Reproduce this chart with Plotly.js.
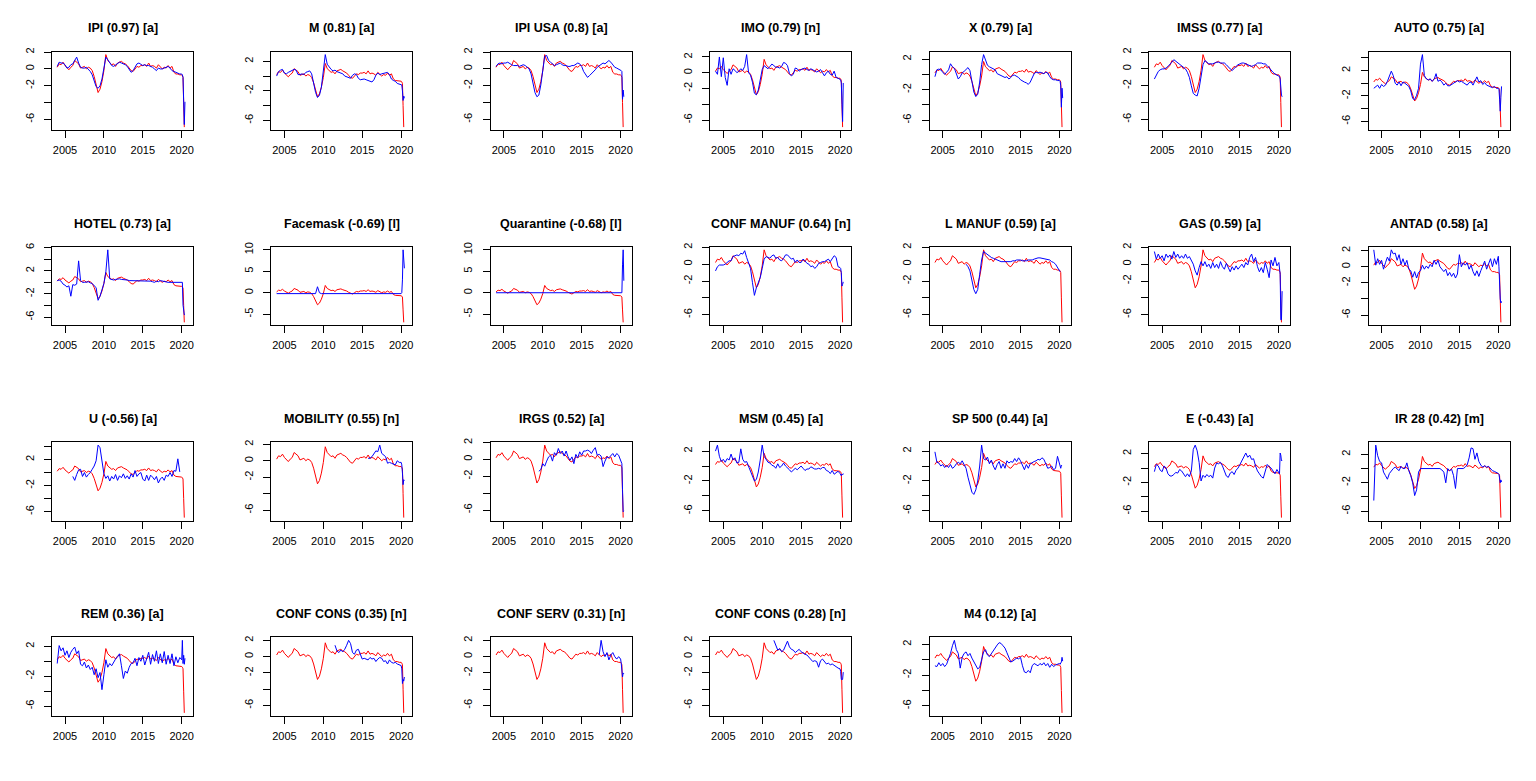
<!DOCTYPE html>
<html><head><meta charset="utf-8">
<script src="https://cdn.plot.ly/plotly-3.0.1.min.js"></script>
<style>html,body{margin:0;padding:0;background:#fff;} #chart{width:1536px;height:781px;}</style>
</head><body><div id="chart"></div>
<script>
const _ = null;
// Time axis: quarterly 2004-2019, then monthly Jan-Jun 2020
const T = [2004,2004.25,2004.5,2004.75,2005,2005.25,2005.5,2005.75,2006,2006.25,2006.5,2006.75,
2007,2007.25,2007.5,2007.75,2008,2008.25,2008.5,2008.75,2009,2009.25,2009.5,2009.75,
2010,2010.25,2010.5,2010.75,2011,2011.25,2011.5,2011.75,2012,2012.25,2012.5,2012.75,
2013,2013.25,2013.5,2013.75,2014,2014.25,2014.5,2014.75,2015,2015.25,2015.5,2015.75,
2016,2016.25,2016.5,2016.75,2017,2017.25,2017.5,2017.75,2018,2018.25,2018.5,2018.75,
2019,2019.25,2019.5,2019.75,2020,2020.083,2020.167,2020.25,2020.333,2020.417];

// Red series (target, same in every panel)
const TARGET = [0.2,0.6,0.5,0.8, 0.4,0.2,-0.1,0.2, 0.4,1.0,0.8,0.6, 0.1,0.2,0.3,0.0,
0.2,0.1,-0.2,-0.9, -2.0,-2.8,-2.4,-1.5, -0.2,1.7,1.0,0.7, 0.5,0.6,0.3,0.7,
0.8,0.9,0.7,0.6, 0.4,0.1,-0.2,-0.3, 0.0,0.3,0.2,0.4, 0.4,0.5,0.3,0.7,
0.3,0.4,0.3,0.1, 0.5,0.2,0.0,0.2, 0.1,0.4,0.1,0.3, -0.4,-0.6,-0.6,-0.7,
-0.7,-0.8,-1.0,-4.0,-6.9,_];

// Blue series (indicators)
const IPI = [0.3,0.8,0.7,0.7, 0.5,0.1,0.2,0.5, 0.6,1.0,1.4,0.7, 0.2,0.1,0.1,0.2,
0.0,-0.3,-0.7,-1.5, -2.1,-2.3,-2.0,-1.2, 0.2,1.4,1.1,0.7, 0.4,0.3,0.5,0.7,
0.8,0.7,0.6,0.5, 0.3,0.0,-0.4,-0.2, 0.2,0.6,0.7,0.5, 0.4,0.5,0.4,0.4,
0.3,0.2,0.0,-0.2, 0.1,0.0,0.0,0.1, 0.2,0.3,0.1,-0.2, -0.3,-0.4,-0.5,-0.6,
-0.6,-0.7,-1.0,-3.9,-6.6,-3.9];
const M_IMP = [0.0,0.6,0.8,0.9, 0.4,0.3,0.5,0.6, 0.8,0.9,0.8,0.2, 0.2,0.3,0.2,0.5,
0.6,0.7,0.3,-1.0, -2.2,-2.9,-2.6,-1.5, 0.5,2.9,1.6,1.2, 0.9,0.7,0.8,0.6,
0.5,0.4,0.3,0.0, -0.1,-0.2,-0.3,0.1, 0.3,0.2,-0.3,-0.5, -0.4,-0.4,-0.5,-0.6,
-0.8,-0.8,-0.5,0.1, 0.4,0.2,0.3,0.4, 0.4,0.5,0.2,-0.4, -0.6,-0.7,-1.0,-1.1,
-1.1,-1.2,-2.0,-3.3,-2.7,-3.0];
const IPI_USA = [0.3,0.6,0.7,0.6, 0.7,0.7,0.8,0.6, 0.5,0.4,0.4,0.4, 0.3,0.4,0.5,0.4,
0.2,0.0,-0.6,-1.6, -2.8,-3.3,-3.1,-1.9, -0.2,1.5,1.6,1.0, 0.8,0.6,0.4,0.5,
0.6,0.7,0.5,0.4, 0.4,0.3,0.3,0.4, 0.4,0.6,0.7,0.6, 0.3,-0.3,-0.7,-1.0,
-0.8,-0.6,-0.4,-0.1, 0.2,0.4,0.5,0.7, 0.6,0.8,1.0,0.8, 0.5,0.2,0.1,0.0,
-0.1,-0.2,-0.3,-3.6,-2.5,-3.3];
const IMO = [0.2,-0.2,2.0,-0.5, 1.9,-0.6,-1.6,0.5, -0.2,0.5,0.3,0.0, 0.2,0.5,0.3,0.8,
2.3,0.0,-0.3,-1.2, -2.6,-2.8,-2.2,-1.0, 0.4,0.9,0.7,0.5, 0.8,1.1,0.9,0.7,
0.7,0.6,0.8,1.3, 1.2,0.9,-0.1,-0.4, -0.2,0.6,0.5,0.2, 0.4,0.5,0.6,0.4,
0.3,0.5,0.4,0.2, 0.1,0.2,0.4,0.0, -0.4,0.0,0.2,-0.2, -0.3,0.2,-0.6,-0.7,
-0.8,-0.9,-1.3,-4.0,-6.2,-1.3];
const X_EXP = [-0.3,0.6,0.7,0.6, 0.3,0.0,0.3,0.6, 1.4,1.0,0.8,0.2, -0.6,-0.3,0.2,0.4,
0.6,0.9,0.5,-1.0, -2.3,-2.9,-2.6,-1.0, 1.3,2.6,1.8,1.2, 1.0,0.9,0.8,0.6,
0.1,0.0,-0.1,-0.3, -0.4,-0.3,-0.6,-0.4, -0.1,-0.1,-0.2,-0.4, -0.7,-0.9,-1.0,-1.1,
-1.3,-1.0,-0.4,0.1, 0.3,0.2,0.3,0.2, 0.1,0.3,0.2,-0.3, -0.6,-0.7,-0.7,-0.8,
-0.8,-0.9,-1.5,-4.3,-1.8,-3.1];
const IMSS = [-1.2,-0.7,-0.3,-0.1, 0.0,0.0,0.1,0.3, 0.5,0.8,1.1,0.9, 0.8,0.6,0.4,0.2,
0.0,-0.4,-1.0,-2.0, -2.9,-3.1,-3.2,-2.3, -0.6,0.5,1.0,0.8, 0.6,0.6,0.6,0.7,
0.8,0.8,0.7,0.7, 0.7,0.5,0.2,0.0, -0.2,0.1,0.3,0.5, 0.6,0.7,0.7,0.6,
0.5,0.4,0.3,0.4, 0.5,0.7,0.7,0.7, 0.6,0.6,0.4,0.1, -0.2,-0.4,-0.6,-0.7,
-0.8,-0.9,-1.2,-2.6,-3.1,-3.3];
const AUTO = [-0.8,-0.6,-0.3,-0.8, -0.2,-0.5,-0.3,0.3, 1.0,1.9,1.2,0.0, -0.3,0.2,-0.4,0.2,
0.0,-0.2,-0.5,-1.2, -2.4,-2.6,-1.9,-0.8, 3.0,4.5,1.2,0.7, 0.5,0.7,0.3,0.6,
1.5,0.3,0.5,0.2, -0.3,0.0,-0.4,-0.4, -0.2,0.1,0.2,0.4, 0.2,0.3,0.1,-0.1,
-0.3,0.1,0.2,-0.3, 0.3,1.0,0.2,0.4, -0.2,0.1,-0.3,-0.4, -0.5,-0.7,-0.5,-0.8,
-0.8,-0.9,-2.5,-4.4,-2.2,-0.5];
const HOTEL = [0.3,0.4,0.2,-0.3, -0.5,-0.8,-0.6,-2.4, -0.4,-0.5,-0.3,3.7, 0.3,0.0,0.0,0.0,
0.1,-0.1,-0.2,-0.6, -0.9,-3.1,-2.4,-1.3, -0.2,1.8,5.6,0.6, 0.5,0.4,0.5,0.6,
0.6,0.5,0.5,0.4, 0.4,0.3,0.3,0.3, 0.2,0.3,0.3,0.2, 0.2,0.3,0.3,0.2,
0.2,0.1,0.0,0.2, 0.1,0.3,0.2,0.1, 0.1,0.0,0.0,0.0, 0.0,0.0,0.0,0.0,
0.0,0.0,-3.9,-5.6,-5.6,-5.5];
const FACEMASK = [-0.2,-0.2,-0.2,-0.2, -0.2,-0.2,-0.2,-0.2, -0.2,-0.2,-0.2,-0.2, -0.2,-0.2,-0.2,-0.2,
-0.2,-0.2,-0.2,-0.2, -0.2,1.4,0.0,-0.2, -0.2,-0.2,-0.2,-0.2, -0.2,-0.2,-0.2,-0.2,
-0.2,-0.2,-0.2,-0.2, -0.2,-0.2,-0.2,-0.2, -0.2,-0.2,-0.2,-0.2, -0.2,-0.2,-0.2,-0.2,
-0.2,-0.2,-0.2,-0.2, -0.2,-0.2,-0.2,-0.2, -0.2,-0.2,-0.2,-0.2, -0.2,-0.2,-0.2,-0.2,
-0.2,0.0,3.0,10.0,7.5,5.7];
const QUARANTINE = [0,0,0,0, 0,0,0,0, 0,0,0,0, 0,0,0,0,
0,0,0,0, 0,0,0,0, 0,0,0,0, 0,0,0,0,
0,0,0,0, 0,0,0,0, 0,0,0,0, 0,0,0,0,
0,0,0,0, 0,0,0,0, 0,0,0,0, 0,0,0,0,
0,0,0,6.5,10.0,2.8];
const CONF_MANUF = [-0.8,-0.3,-0.1,-0.1, -0.1,0.0,0.2,0.4, 0.4,0.9,1.0,1.1, 1.0,1.3,1.2,1.6,
0.8,0.2,-0.5,-2.2, -3.7,-2.8,-2.3,-1.6, -0.5,0.6,0.9,0.8, 0.7,1.0,1.1,0.7,
0.8,0.5,0.4,0.7, 1.1,1.1,0.8,0.6, 0.7,0.2,0.5,0.2, 0.2,0.6,0.4,0.1,
0.0,-0.3,-0.2,-0.5, -0.3,0.1,0.2,0.3, 0.3,0.5,0.6,0.3, 0.6,1.0,0.8,-0.3,
-0.4,-0.5,-1.0,-2.6,-2.4,-2.1];
const L_MANUF = [_,_,_,_, _,_,_,_, _,_,_,_, _,_,_,_,
0.0,-0.3,-0.8,-1.8, -3.0,-3.5,-3.0,-1.2, 0.5,1.5,1.3,1.1, 1.0,0.8,0.7,0.6,
0.5,0.4,0.3,0.3, 0.3,0.3,0.3,0.3, 0.4,0.4,0.5,0.5, 0.5,0.4,0.4,0.4,
0.5,0.5,0.5,0.6, 0.7,0.75,0.75,0.7, 0.7,0.6,0.6,0.5, 0.3,0.2,0.0,-0.4,
-0.8,-0.9,_,_,_,_];
const GAS = [1.5,0.6,1.2,0.7, 1.0,0.4,1.2,0.8, 1.1,0.6,1.5,0.8, 1.2,0.7,1.0,0.7,
1.2,0.7,0.9,0.5, 0.0,-0.8,-1.3,-0.4, 0.3,-0.2,0.3,-0.3, 0.0,-0.5,0.2,-0.4,
0.0,-0.5,0.3,-0.3, -0.6,0.1,-0.5,-0.9, -0.3,-0.7,-0.2,-0.6, -0.3,0.0,-0.4,0.2,
-0.1,0.8,1.2,0.3, 0.8,-0.3,-0.9,-0.4, -1.0,0.2,-0.6,-1.6, 0.5,-0.2,0.8,-0.2,
0.2,-1.0,-1.2,-6.6,-6.6,-3.2];
const ANTAD = [2.1,0.2,1.0,0.3, 0.8,-0.3,0.5,1.2, 0.7,2.1,1.6,1.7, 0.8,1.5,0.3,1.0,
0.2,0.8,-0.3,-0.5, -1.3,-0.6,-1.4,-0.7, -0.5,0.2,-0.3,0.1, -0.2,0.3,0.0,0.8,
0.3,0.8,0.0,-0.3, -0.6,-0.3,-1.1,-0.7, -1.2,-0.8,-1.4,-0.9, 1.5,0.0,0.5,0.2,
0.5,-0.3,0.2,-0.6, -1.1,-0.5,-1.2,-0.5, 0.2,0.7,-0.3,0.5, 1.0,0.0,1.0,0.3,
1.3,0.0,-2.8,-4.0,-4.5,-4.3];
const U_UNEMP = [_,_,_,_, _,_,_,_, -0.6,-1.2,-0.3,0.4, 0.5,-0.6,0.0,-0.7,
-0.3,0.0,0.5,1.0, 1.8,4.2,3.8,1.7, -0.2,-0.9,-0.5,-1.3, -0.6,-1.0,-0.3,-1.2,
-0.5,-0.8,-0.2,-0.9, -0.5,-1.0,-0.2,-0.7, 0.3,-0.6,-0.2,0.0, -1.0,-1.3,-0.4,-1.2,
-0.4,-0.7,-1.1,-0.6, -1.6,-1.0,-0.7,-1.2, -0.4,-0.6,0.0,-0.6, 0.3,0.2,2.1,0.1,
_,_,_,_,_,_];
const MOBILITY = [_,_,_,_, _,_,_,_, _,_,_,_, _,_,_,_,
_,_,_,_, _,_,_,_, _,_,_,_, _,_,_,_,
_,_,_,_, _,_,_,_, _,_,_,_, _,_,_,0.3,
0.3,0.5,0.9,1.2, 1.1,1.9,0.9,0.7, 0.5,-0.3,-0.2,-0.3, -0.4,-0.5,0.0,-0.2,
-0.2,-0.5,-1.5,-2.9,-2.3,-2.4];
const IRGS = [_,_,_,_, _,_,_,_, _,_,_,_, _,_,_,_,
_,_,_,_, _,_,-1.4,-1.2, -0.5,-0.8,-0.2,0.3, 0.5,-0.2,0.8,0.5,
1.3,0.7,1.0,0.4, 1.0,0.3,-0.1,0.3, -0.5,0.6,0.2,0.9, 0.5,1.0,1.0,1.1,
1.0,0.7,1.1,1.4, 0.5,0.6,0.4,-0.85, -0.2,0.3,0.2,0.5, 0.7,0.3,0.7,0.5,
0.0,-0.2,-0.5,-3.6,-6.2,-6.1];
const MSM = [2.0,2.8,1.3,0.6, 0.9,0.5,1.0,0.8, 1.6,0.8,1.1,0.4, 0.5,2.3,0.9,0.5,
0.6,0.0,-0.6,-1.4, -2.0,-1.8,-0.8,0.8, 2.8,1.3,0.8,0.5, 0.4,0.1,0.0,-0.3,
0.3,-0.2,0.0,0.4, 0.0,-0.2,-0.5,-0.8, -0.6,-0.3,-0.5,-0.2, 0.0,-0.3,-0.6,-0.4,
-0.4,-0.1,-0.3,-0.4, -0.4,-0.3,-0.4,-0.2, -0.2,-0.6,-0.7,-1.0, -0.6,-1.1,-0.9,-0.7,
-1.0,-1.1,-1.3,-1.1,-1.2,-1.0];
const SP500 = [1.9,0.5,0.4,0.0, 0.2,-0.2,0.1,-0.2, 0.2,-0.3,-0.1,0.3, 0.5,0.3,0.7,0.1,
-0.3,-1.5,-2.5,-3.5, -3.8,-3.2,-2.0,0.0, 2.8,1.0,0.8,1.2, 0.3,0.8,0.0,-0.5,
0.2,0.6,-0.3,0.3, -0.3,0.7,0.4,0.6, 0.5,1.0,0.6,1.1, 0.7,0.0,-0.5,0.2,
-0.3,0.3,0.5,0.6, 0.7,0.9,0.8,1.1, 0.9,0.3,-0.3,-0.2, 0.0,-0.5,-0.3,1.3,
0.4,-0.1,-0.3,0.1,0.0,_];
const E_FX = [-0.5,0.5,0.3,-0.3, -0.5,0.3,0.0,-0.8, -1.1,-1.1,-0.9,-0.6, -0.7,-0.2,-0.4,-0.8,
-1.2,-0.8,-1.2,-0.4, 2.6,3.2,2.4,0.8, -1.8,-1.0,-1.3,-0.9, -1.2,-1.0,-1.4,0.0,
0.7,0.6,0.8,0.3, -0.3,-1.1,-1.3,-0.7, -0.5,-0.9,-0.3,0.0, 0.5,1.0,1.5,2.1,
1.5,1.8,1.2,1.3, 0.3,-0.4,-0.8,-1.2, -1.4,-0.5,0.5,0.2, 0.0,-0.4,-0.8,-0.2,
-0.6,-0.8,2.1,1.8,1.0,1.1];
const IR28 = [-4.5,3.3,1.8,1.0, 0.8,-0.5,-1.0,-1.5, -0.7,-0.3,0.0,0.2, 0.0,-0.3,0.3,0.0,
0.0,0.8,-0.3,-1.0, -2.0,-3.8,-3.0,-0.5, 0.0,0.0,0.0,0.0, 0.0,0.0,0.0,0.0,
0.0,0.0,0.0,-0.2, -0.5,-2.0,0.0,-0.3, -0.1,-1.0,-2.8,0.0, 0.0,0.0,0.0,0.2,
0.5,1.5,2.9,2.8, 1.3,2.2,1.0,0.5, 0.2,0.4,0.2,0.3, 0.0,-0.3,-0.4,-0.5,
-0.7,-0.8,-1.2,-2.0,-1.6,-1.9];
const REM = [-0.3,2.1,1.4,1.8, 0.8,1.4,0.5,1.2, 1.6,1.9,1.0,1.4, -0.4,-0.6,-0.1,-0.9,
-0.5,-1.1,-0.8,-1.8, -1.0,-2.2,-1.5,-3.8, -1.8,0.2,-0.8,-0.3, -0.6,-0.1,0.3,0.6,
1.0,-0.6,-2.3,-1.3, -1.6,-0.8,-0.3,-0.2, 0.4,-0.6,0.5,0.0, 0.8,-0.5,0.3,1.2,
-0.4,0.9,0.0,1.4, -0.3,1.0,-0.2,1.3, -0.4,0.8,-0.3,1.0, -0.6,0.6,-0.2,0.5,
0.2,2.8,-0.3,0.8,-0.4,0.4];
const CONF_CONS_A = [_,_,_,_, _,_,_,_, _,_,_,_, _,_,_,_,
_,_,_,_, _,_,_,_, _,_,_,_, _,_,1.4,0.7,
0.5,0.8,0.6,0.9, 1.4,2.0,1.6,0.5, 0.3,0.8,0.9,0.4, -0.3,-0.2,-0.3,-0.4,
-0.1,-0.3,-0.2,-0.6, -0.3,-0.1,-0.2,-0.6, -0.5,-0.9,-0.4,-0.7, -0.8,-0.7,-0.9,-1.0,
-1.1,-1.5,-3.3,-2.8,-3.0,-2.5];
const CONF_SERV = [_,_,_,_, _,_,_,_, _,_,_,_, _,_,_,_,
_,_,_,_, _,_,_,_, _,_,_,_, _,_,_,_,
_,_,_,_, _,_,_,_, _,_,_,_, _,_,_,_,
_,_,_,_, _,0.2,2.0,0.6, 0.0,0.5,-0.4,0.2, 0.5,0.0,-0.3,0.0,
-0.3,-0.8,-1.5,-2.5,-2.0,-2.1];
const CONF_CONS_B = [_,_,_,_, _,_,_,_, _,_,_,_, _,_,_,_,
_,_,_,_, _,_,_,_, _,_,_,_, _,_,2.0,1.3,
0.8,1.0,0.6,0.8, 1.4,1.9,1.2,0.9, 0.8,0.5,0.7,0.9, 0.6,0.4,0.3,0.2,
-0.1,-0.3,-0.6,-0.5, -0.6,-1.3,-0.5,-0.3, -0.6,-0.9,-0.8,-1.0, -0.9,-1.1,-1.3,-1.4,
-1.5,-1.8,-2.8,-2.8,-2.8,-1.9];
const M4 = [-0.8,-0.9,-0.4,-0.8, -0.5,-0.9,-0.6,0.0, 0.8,1.8,2.5,1.3, 0.8,-1.1,0.3,0.8,
1.0,0.5,0.8,0.2, -0.3,-0.8,-1.2,-1.0, 0.0,1.0,1.3,0.6, 0.4,0.8,1.2,1.6,
1.9,2.2,2.1,1.8, 1.5,0.9,0.3,-0.3, -0.2,0.0,0.2,0.1, 0.3,-0.8,-1.6,-1.7,
-1.4,-1.7,-0.8,-0.5, -0.6,-0.8,-0.5,-0.7, -0.4,-0.8,-0.5,-1.0, -0.6,-0.9,-0.7,-0.6,
-0.5,-0.6,-0.4,-0.3,0.3,-0.2];

const TITLES = ["IPI (0.97) [a]","M (0.81) [a]","IPI USA (0.8) [a]","IMO (0.79) [n]","X (0.79) [a]","IMSS (0.77) [a]","AUTO (0.75) [a]",
"HOTEL (0.73) [a]","Facemask (-0.69) [l]","Quarantine (-0.68) [l]","CONF MANUF (0.64) [n]","L MANUF (0.59) [a]","GAS (0.59) [a]","ANTAD (0.58) [a]",
"U (-0.56) [a]","MOBILITY (0.55) [n]","IRGS (0.52) [a]","MSM (0.45) [a]","SP 500 (0.44) [a]","E (-0.43) [a]","IR 28 (0.42) [m]",
"REM (0.36) [a]","CONF CONS (0.35) [n]","CONF SERV (0.31) [n]","CONF CONS (0.28) [n]","M4 (0.12) [a]"];
const INDICATORS = [IPI,M_IMP,IPI_USA,IMO,X_EXP,IMSS,AUTO,
HOTEL,FACEMASK,QUARANTINE,CONF_MANUF,L_MANUF,GAS,ANTAD,
U_UNEMP,MOBILITY,IRGS,MSM,SP500,E_FX,IR28,
REM,CONF_CONS_A,CONF_SERV,CONF_CONS_B,M4];
const XTICKS = [2005,2010,2015,2020];
const XRANGE = [2003.33,2021.45];

// ---- layout geometry (pixels) ----
const W = 1536, H = 781, NC = 7;
const COLW = 219.43, ROWH = 195.25;
const BOXL = 52, BOXW = 141, BOXT = 51.7, BOXH = 78.3, TITLEY = 28.5;
const FONT = "Liberation Sans, Arial, Helvetica, sans-serif";
const GAP = 7.75, DIGW = 6.1, MINW = 3.7;

function prettyTicks(lo, hi){
  const cell = (hi-lo)/5, U = Math.pow(10, Math.floor(Math.log10(cell)));
  let unit = U;
  if (2*U - cell < 1.5*(cell-unit)) { unit = 2*U;
    if (5*U - cell < 2.75*(cell-unit)) { unit = 5*U;
      if (10*U - cell < 1.5*(cell-unit)) unit = 10*U; } }
  const out = [];
  for (let v = Math.ceil(lo/unit - 1e-9)*unit; v <= hi + 1e-9; v += unit) out.push(Math.round(v*1e6)/1e6);
  return out;
}
function labW(s){ let w=0; for (const c of s) w += (c==='-')?MINW:DIGW; return w; }

const traces = [], layout = {
  width: W, height: H, margin:{l:0,r:0,t:0,b:0}, showlegend:false,
  paper_bgcolor:'#fff', plot_bgcolor:'#fff', font:{family:FONT, color:'#000', size:11},
  annotations: []
};

INDICATORS.forEach((blue, i) => {
  const r = Math.floor(i/NC), c = i % NC;
  const sx = i===0 ? '' : String(i+1);
  const left = BOXL + c*COLW, top = BOXT + r*ROWH;
  const vals = TARGET.concat(blue).filter(v => v !== null);
  const mn = Math.min(...vals), mx = Math.max(...vals), pad = 0.04*(mx-mn);
  const lo = mn - pad, hi = mx + pad;
  const ticks = prettyTicks(lo, hi);
  const ppu = BOXH/(hi-lo);
  let lastTop = -Infinity;
  const ttext = ticks.map(v => {
    const s = String(v), half = labW(s)/2, pos = (v-lo)*ppu;
    if (pos - half >= lastTop + GAP) { lastTop = pos + half; return s; }
    return '';
  });
  layout['xaxis'+sx] = {
    domain:[left/W, (left+BOXW)/W], anchor:'y'+sx, range:XRANGE, autorange:false,
    tickmode:'array', tickvals:XTICKS, ticktext:XTICKS.map(String),
    ticks:'outside', ticklen:7, tickwidth:1, tickcolor:'#000',
    showline:true, mirror:true, linecolor:'#000', linewidth:1,
    showgrid:false, zeroline:false, tickfont:{family:FONT,size:11,color:'#000'},
    ticklabelstandoff:3, fixedrange:true
  };
  layout['yaxis'+sx] = {
    domain:[1-(top+BOXH)/H, 1-top/H], anchor:'x'+sx, range:[lo,hi], autorange:false,
    tickmode:'array', tickvals:ticks, ticktext:ttext, tickangle:-90,
    ticks:'outside', ticklen:7, tickwidth:1, tickcolor:'#000',
    showline:true, mirror:true, linecolor:'#000', linewidth:1,
    showgrid:false, zeroline:false, tickfont:{family:FONT,size:11,color:'#000'},
    ticklabelstandoff:6, fixedrange:true
  };
  traces.push({x:T, y:TARGET, xaxis:'x'+sx, yaxis:'y'+sx, type:'scatter', mode:'lines',
    line:{color:'#ff0000', width:1}, hoverinfo:'skip', connectgaps:false});
  traces.push({x:T, y:blue, xaxis:'x'+sx, yaxis:'y'+sx, type:'scatter', mode:'lines',
    line:{color:'#0000ff', width:1}, hoverinfo:'skip', connectgaps:false});
  layout.annotations.push({
    text:'<b>'+TITLES[i]+'</b>', xref:'paper', yref:'paper',
    x:(left+BOXW/2)/W, y:1-(TITLEY + r*ROWH)/H, xanchor:'center', yanchor:'middle',
    showarrow:false, font:{family:FONT, size:12.5, color:'#000'}
  });
});

Plotly.newPlot('chart', traces, layout, {staticPlot:true, displayModeBar:false});
</script></body></html>
